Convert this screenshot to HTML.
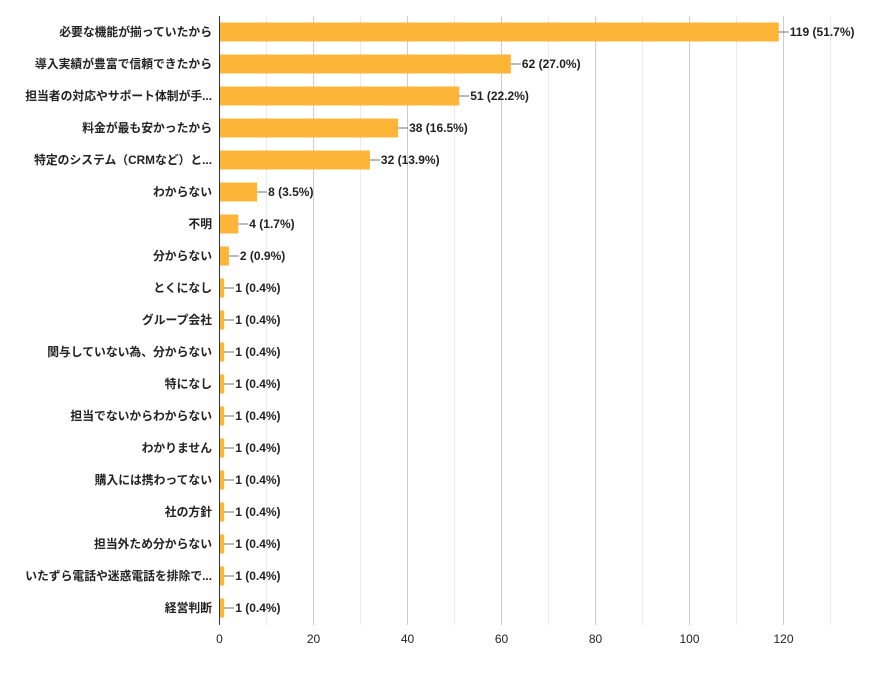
<!DOCTYPE html>
<html><head><meta charset="utf-8"><style>
body{margin:0;background:#fff}
text{font-family:"Liberation Sans","Noto Sans CJK JP",sans-serif}
</style></head><body>
<svg width="886" height="671" xmlns="http://www.w3.org/2000/svg">
<g id="grid"></g>
<g id="bars"></g>
<line x1="219.5" y1="16" x2="219.5" y2="625" stroke="#333" stroke-width="1"/>
</svg>
<script>
const data=[["必要な機能が揃っていたから",119,"51.7%"],["導入実績が豊富で信頼できたから",62,"27.0%"],["担当者の対応やサポート体制が手...",51,"22.2%"],["料金が最も安かったから",38,"16.5%"],["特定のシステム（CRMなど）と...",32,"13.9%"],["わからない",8,"3.5%"],["不明",4,"1.7%"],["分からない",2,"0.9%"],["とくになし",1,"0.4%"],["グループ会社",1,"0.4%"],["関与していない為、分からない",1,"0.4%"],["特になし",1,"0.4%"],["担当でないからわからない",1,"0.4%"],["わかりません",1,"0.4%"],["購入には携わってない",1,"0.4%"],["社の方針",1,"0.4%"],["担当外ため分からない",1,"0.4%"],["いたずら電話や迷惑電話を排除で...",1,"0.4%"],["経営判断",1,"0.4%"]];
const ns="http://www.w3.org/2000/svg",s=4.7,x0=219.5;
function el(t,a,p,txt){const e=document.createElementNS(ns,t);for(const k in a)e.setAttribute(k,a[k]);if(txt!=null)e.textContent=txt;p.appendChild(e);return e}
const g=document.getElementById('grid'),b=document.getElementById('bars');
for(let v=10;v<=130;v+=10){const x=x0+v*s;el('line',{x1:x,y1:16,x2:x,y2:625,stroke:v%20?'#ebebeb':'#cccccc'},g)}
for(let v=0;v<=120;v+=20)el('text',{x:x0+v*s,y:643,'font-size':12,'text-anchor':'middle',fill:'#222'},g,v);
data.forEach((d,i)=>{const c=32+i*32,w=d[1]*s;
el('rect',{x:x0,y:c-9.5,width:w,height:19,fill:'#fdb537'},b);
el('line',{x1:x0+w,y1:c,x2:x0+w+10,y2:c,stroke:'#777'},b);
el('text',{x:x0+w+11,y:c+4,'font-size':12,'font-weight':'bold',fill:'#222'},b,d[1]+' ('+d[2]+')');
el('text',{x:212,y:c+4,'font-size':11.8,'font-weight':'bold','text-anchor':'end',fill:'#222'},b,d[0]);});
</script>
</body></html>
